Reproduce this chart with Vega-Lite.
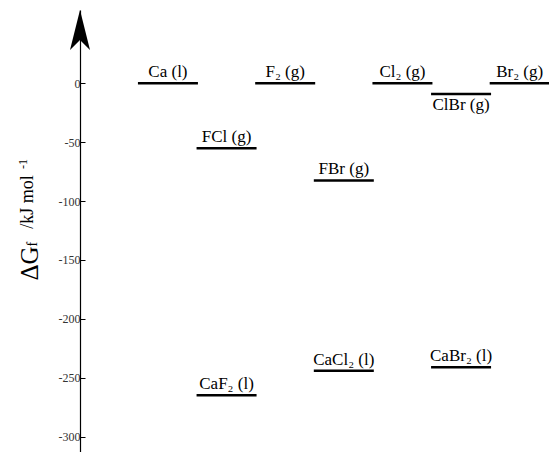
{
  "$schema": "https://vega.github.io/schema/vega-lite/v6.json",
  "width": 469,
  "height": 442,
  "autosize": {"type": "none"},
  "padding": {"left": 80, "top": 10, "right": 0, "bottom": 0},
  "background": "white",
  "config": {"view": {"stroke": null}, "font": "Liberation Serif"},
  "data": {
    "values": [
      {"species": "Ca (l)", "slot": 1, "dG": 0, "side": "above"},
      {"species": "FCl (g)", "slot": 2, "dG": -55.2, "side": "above"},
      {"species": "CaF₂ (l)", "slot": 2, "dG": -264.9, "side": "above"},
      {"species": "F₂ (g)", "slot": 3, "dG": 0, "side": "above"},
      {"species": "FBr (g)", "slot": 4, "dG": -82.5, "side": "above"},
      {"species": "CaCl₂ (l)", "slot": 4, "dG": -244.0, "side": "above"},
      {"species": "Cl₂ (g)", "slot": 5, "dG": 0, "side": "above"},
      {"species": "ClBr (g)", "slot": 6, "dG": -9.2, "side": "below"},
      {"species": "CaBr₂ (l)", "slot": 6, "dG": -241.1, "side": "above"},
      {"species": "Br₂ (g)", "slot": 7, "dG": 0, "side": "above"}
    ]
  },
  "layer": [
    {
      "mark": {"type": "tick", "orient": "horizontal", "size": 60, "thickness": 2.5, "color": "black", "opacity": 1},
      "encoding": {
        "x": {"field": "slot", "type": "quantitative", "scale": {"domain": [-0.5, 7.5], "nice": false, "zero": false}, "axis": null},
        "y": {
          "field": "dG", "type": "quantitative",
          "scale": {"domain": [-313, 62.2], "nice": false, "zero": false},
          "axis": {
            "title": null,
            "values": [-300, -275, -250, -225, -200, -175, -150, -125, -100, -75, -50, -25, 0],
            "labelExpr": "datum.value % 50 == 0 ? '' + datum.value : ''",
            "tickSize": -5,
            "tickColor": "black",
            "tickWidth": 1,
            "domainColor": "black",
            "domainWidth": 1.2,
            "grid": false,
            "labelFont": "Liberation Serif",
            "labelFontSize": 12,
            "labelColor": "#333",
            "labelPadding": 5
          }
        }
      }
    },
    {
      "transform": [{"filter": "datum.side == 'above'"}],
      "mark": {"type": "text", "baseline": "alphabetic", "align": "center", "dy": -6, "font": "Liberation Serif", "fontSize": 17, "color": "black"},
      "encoding": {
        "x": {"field": "slot", "type": "quantitative"},
        "y": {"field": "dG", "type": "quantitative"},
        "text": {"field": "species"}
      }
    },
    {
      "transform": [{"filter": "datum.side == 'below'"}],
      "mark": {"type": "text", "baseline": "top", "align": "center", "dy": 3, "font": "Liberation Serif", "fontSize": 17, "color": "black"},
      "encoding": {
        "x": {"field": "slot", "type": "quantitative"},
        "y": {"field": "dG", "type": "quantitative"},
        "text": {"field": "species"}
      }
    },
    {
      "data": {"values": [{}]},
      "mark": {"type": "point", "shape": "M0,-1 L0.5,1 L0,0.5 L-0.5,1 Z", "size": 1600, "filled": true, "color": "black", "opacity": 1, "strokeWidth": 0},
      "encoding": {"x": {"datum": -0.5, "type": "quantitative"}, "y": {"datum": 45.2, "type": "quantitative"}}
    },
    {
      "data": {"values": [{}]},
      "mark": {"type": "text", "angle": 270, "align": "center", "baseline": "middle", "font": "Liberation Serif", "fontSize": 25, "color": "black"},
      "encoding": {"x": {"datum": -1.353, "type": "quantitative"}, "y": {"datum": -153.0, "type": "quantitative"}, "text": {"value": "ΔG"}}
    },
    {
      "data": {"values": [{}]},
      "mark": {"type": "text", "angle": 270, "align": "center", "baseline": "middle", "font": "Liberation Serif", "fontSize": 14, "color": "black"},
      "encoding": {"x": {"datum": -1.30, "type": "quantitative"}, "y": {"datum": -136.5, "type": "quantitative"}, "text": {"value": "f"}}
    },
    {
      "data": {"values": [{}]},
      "mark": {"type": "text", "angle": 270, "align": "center", "baseline": "middle", "font": "Liberation Serif", "fontSize": 18, "color": "black"},
      "encoding": {"x": {"datum": -1.39, "type": "quantitative"}, "y": {"datum": -100.7, "type": "quantitative"}, "text": {"value": "/kJ mol"}}
    },
    {
      "data": {"values": [{}]},
      "mark": {"type": "text", "angle": 270, "align": "center", "baseline": "middle", "font": "Liberation Serif", "fontSize": 12, "color": "black"},
      "encoding": {"x": {"datum": -1.48, "type": "quantitative"}, "y": {"datum": -68.5, "type": "quantitative"}, "text": {"value": "-1"}}
    }
  ]
}
